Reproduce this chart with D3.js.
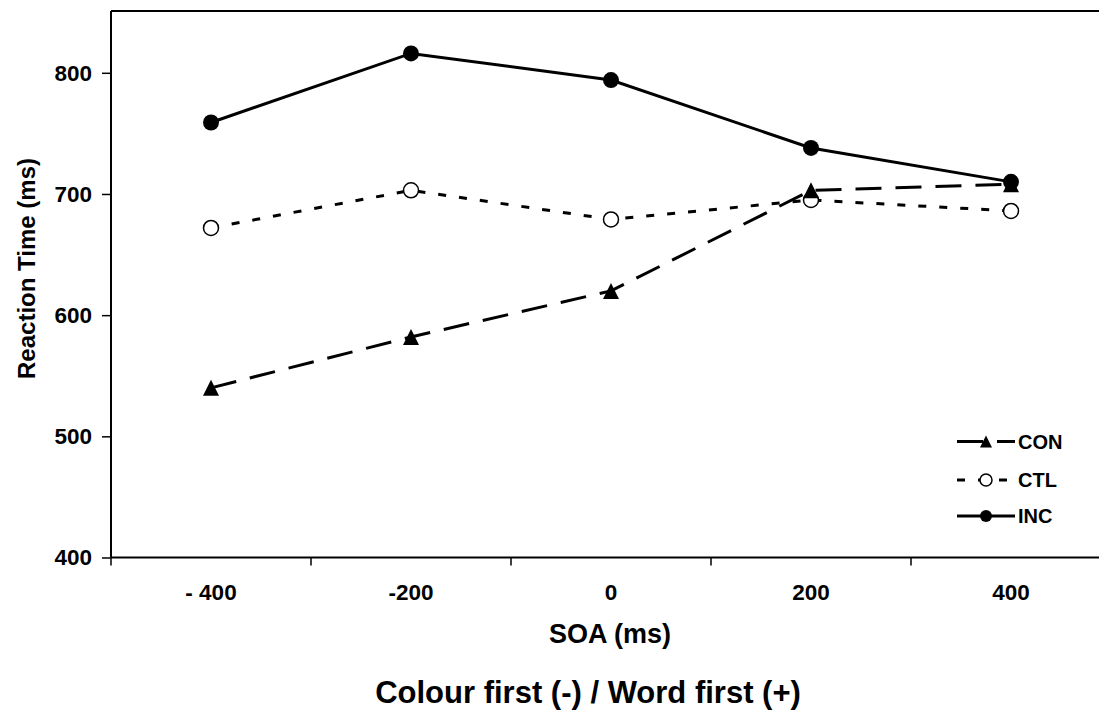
<!DOCTYPE html>
<html><head><meta charset="utf-8">
<script src="https://cdn.jsdelivr.net/npm/d3@7"></script>
<style>body{margin:0;background:#fff;} svg{display:block;font-family:"Liberation Sans",Arial,sans-serif;font-weight:bold;}</style>
</head><body>
<svg id="chart" width="1099" height="714"></svg>
<script>
const categories = ["- 400", "-200", "0", "200", "400"];
const conValues = [540, 582, 620, 703, 708];
const ctlValues = [672, 703, 679, 695, 686];
const incValues = [759, 816, 794, 738, 710];
const seriesNames = ["CON", "CTL", "INC"];
const yTicks = [400, 500, 600, 700, 800];

const svg = d3.select("#chart");
const FONT = "Liberation Sans, Arial, sans-serif";
const L = 111, R = 1111, T = 11, B = 557.5;
const x = d3.scaleBand().domain(categories).range([L, R]);
const y = d3.scaleLinear().domain([400, 851]).range([B, T]);

// plot frame (top border)
svg.append("line").attr("x1", L).attr("x2", 1099).attr("y1", T).attr("y2", T).attr("stroke", "#000").attr("stroke-width", 2);

// y axis
const yAxis = svg.append("g").attr("transform", `translate(${L},0)`)
  .call(d3.axisLeft(y).tickValues(yTicks).tickSize(9).tickPadding(10).tickFormat(d3.format("d")));
yAxis.select(".domain").attr("stroke-width", 2).attr("d", `M0,${T}V${B}`);
yAxis.selectAll(".tick line").attr("stroke-width", 1.5);
yAxis.selectAll(".tick text").attr("font-size", 22.5).attr("font-weight", "bold").attr("font-family", FONT).attr("fill", "#000");

// x axis
const xAxis = svg.append("g").attr("transform", `translate(0,${B})`)
  .call(d3.axisBottom(x).tickSize(0).tickPadding(27));
xAxis.select(".domain").attr("stroke-width", 2).attr("d", `M${L},0H1099`);
xAxis.selectAll(".tick text").attr("font-size", 22.5).attr("font-weight", "bold").attr("font-family", FONT).attr("fill", "#000");
// category boundary ticks
const bounds = categories.map(c => x(c));
svg.append("g").selectAll("line").data(bounds).join("line")
  .attr("x1", d => d).attr("x2", d => d).attr("y1", B).attr("y2", B + 8)
  .attr("stroke", "#000").attr("stroke-width", 1.5);

// axis titles
svg.append("text").attr("x", 610).attr("y", 643).attr("text-anchor", "middle").attr("font-size", 27).text("SOA (ms)");
svg.append("text").attr("x", 588).attr("y", 703).attr("text-anchor", "middle").attr("font-size", 31).text("Colour first (-) / Word first (+)");
svg.append("text").attr("transform", `translate(35,268.5) rotate(-90)`).attr("text-anchor", "middle").attr("font-size", 24).text("Reaction Time (ms)");

const cx = c => x(c) + x.bandwidth() / 2;
const line = d3.line().x(d => cx(d.c)).y(d => y(d.v));
const mk = vals => categories.map((c, i) => ({c, v: vals[i]}));

const conData = mk(conValues), ctlData = mk(ctlValues), incData = mk(incValues);
const dashCON = "26,14", dashCTL = "8,13";

svg.append("path").datum(ctlData).attr("d", line).attr("fill", "none").attr("stroke", "#000").attr("stroke-width", 3).attr("stroke-dasharray", dashCTL);
svg.append("path").datum(conData).attr("d", line).attr("fill", "none").attr("stroke", "#000").attr("stroke-width", 3).attr("stroke-dasharray", dashCON);
svg.append("path").datum(incData).attr("d", line).attr("fill", "none").attr("stroke", "#000").attr("stroke-width", 3);

const tri = s => `M0,${-s/2}L${s/2},${s/2}L${-s/2},${s/2}Z`;
svg.append("g").selectAll("circle").data(ctlData).join("circle")
  .attr("cx", d => cx(d.c)).attr("cy", d => y(d.v)).attr("r", 7.5).attr("fill", "#fff").attr("stroke", "#000").attr("stroke-width", 1.5);
svg.append("g").selectAll("path").data(conData).join("path")
  .attr("transform", d => `translate(${cx(d.c)},${y(d.v)})`).attr("d", tri(16)).attr("fill", "#000");
svg.append("g").selectAll("circle").data(incData).join("circle")
  .attr("cx", d => cx(d.c)).attr("cy", d => y(d.v)).attr("r", 8).attr("fill", "#000");

// legend
const legY = [441.5, 480, 516];
const leg = svg.append("g");
seriesNames.forEach((name, i) => {
  const yy = legY[i];
  const g = leg.append("g");
  const ln = g.append("line").attr("x1", 957).attr("x2", 1015).attr("y1", yy).attr("y2", yy).attr("stroke", "#000").attr("stroke-width", 3);
  if (name === "CON") { ln.attr("stroke-dasharray", dashCON);
    g.append("path").attr("transform", `translate(986,${yy})`).attr("d", tri(12)).attr("fill", "#000"); }
  if (name === "CTL") { ln.attr("stroke-dasharray", dashCTL);
    g.append("circle").attr("cx", 986).attr("cy", yy).attr("r", 6).attr("fill", "#fff").attr("stroke", "#000").attr("stroke-width", 1.5); }
  if (name === "INC") {
    g.append("circle").attr("cx", 986).attr("cy", yy).attr("r", 6).attr("fill", "#000"); }
  g.append("text").attr("x", 1018).attr("y", yy + 7).attr("font-size", 20).text(name);
});
</script>
</body></html>
